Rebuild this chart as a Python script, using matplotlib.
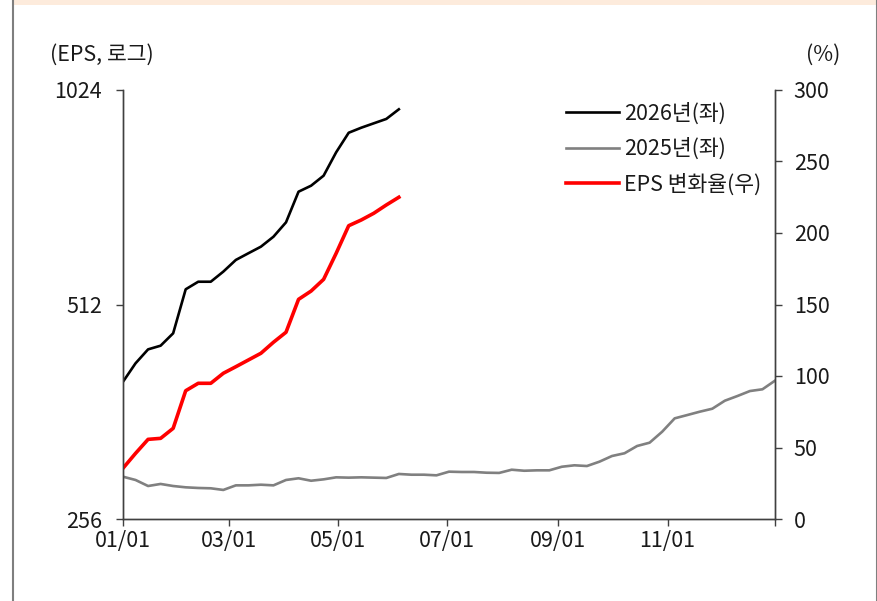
import matplotlib
matplotlib.use("Agg")
import matplotlib.pyplot as plt
from matplotlib.lines import Line2D
from matplotlib.patches import Rectangle
import pandas as pd

plt.rcParams['font.family'] = ['Noto Sans CJK KR', 'DejaVu Sans']

# weekly EPS index (log scale, left axis)
eps_2026 = [398.9, 423.4, 442.9, 448.2, 466.5, 537.8, 551.1, 551.1, 569.4, 591.3,
            604.2, 617.2, 637.4, 667.7, 737.2, 751.6, 776.4, 837.3, 891.9, 906.5,
            919.5, 932.6, 962.1]
eps_2025 = [293.5, 290.4, 284.8, 286.7, 284.8, 283.6, 283.0, 282.7, 281.2, 285.4,
            285.4, 286.0, 285.4, 290.4, 292.0, 289.7, 291.0, 292.9, 292.6, 292.9,
            292.6, 292.3, 296.1, 295.4, 295.4, 294.8, 298.3, 298.0, 298.0, 297.3,
            297.1, 300.2, 299.2, 299.6, 299.6, 303.1, 304.5, 303.8, 308.1, 313.8,
            316.6, 324.1, 327.6, 339.4, 354.4, 358.2, 362.1, 365.6, 375.2, 380.9,
            387.1, 389.3, 400.3]
# EPS change rate (%) right axis
eps_chg = [35.5, 45.9, 55.7, 56.4, 63.4, 89.7, 94.9, 94.9, 101.9, 106.5,
           111.2, 115.9, 123.6, 130.6, 153.6, 159.4, 167.6, 185.8, 205.1, 209.1,
           213.8, 219.6, 225.0]

dates_all = pd.date_range('2026-01-01', periods=len(eps_2025), freq='7D')
dates_26 = dates_all[:len(eps_2026)]

xtick_dates = pd.to_datetime(['2026-01-01', '2026-03-01', '2026-05-01', '2026-07-01',
                              '2026-09-01', '2026-11-01', '2026-12-31'])
xtick_labels = ['01/01', '03/01', '05/01', '07/01', '09/01', '11/01', '']
left_ticks = [256, 512, 1024]
right_ticks = [0, 50, 100, 150, 200, 250, 300]

legend_labels = ['2026년(좌)', '2025년(좌)', 'EPS 변화율(우)']

W, H = 878, 601
fig = plt.figure(figsize=(W / 100, H / 100), dpi=100)
ax = fig.add_axes([123 / W, 1 - 519 / H, (775 - 123) / W, (519 - 90) / H])
ax2 = ax.twinx()

fs = 15.5
spine_col = '#404040'

l1, = ax.plot(dates_26, eps_2026, color='black', lw=1.9, label=legend_labels[0])
l2, = ax.plot(dates_all, eps_2025, color='#808080', lw=1.9, label=legend_labels[1])
l3, = ax2.plot(dates_26, eps_chg, color='#FF0000', lw=2.6, label=legend_labels[2])

ax.set_yscale('log', base=2)
ax.set_ylim(256, 1024)
ax.set_yticks(left_ticks)
ax.set_yticklabels([str(v) for v in left_ticks])
ax.yaxis.set_minor_locator(matplotlib.ticker.NullLocator())
ax.set_xlim(pd.Timestamp('2026-01-01'), pd.Timestamp('2026-12-31'))
ax.set_xticks(xtick_dates)
ax.set_xticklabels(xtick_labels)

ax2.set_ylim(0, 300)
ax2.set_yticks(right_ticks)

for a in (ax, ax2):
    a.spines['top'].set_visible(False)
    for s in ('left', 'right', 'bottom'):
        a.spines[s].set_color(spine_col)
        a.spines[s].set_linewidth(1.0)
    a.tick_params(axis='both', which='major', direction='out', length=5, width=1.0,
                  color=spine_col, labelsize=fs, labelcolor='#1a1a1a')
ax.tick_params(axis='y', pad=10)
ax.tick_params(axis='x', pad=3)
ax2.tick_params(axis='y', pad=8.5)

leg = ax2.legend(handles=[l1, l2, l3], loc='upper left',
                 bbox_to_anchor=(562 / W, 1 - 98 / H), bbox_transform=fig.transFigure,
                 frameon=False, fontsize=fs, handlelength=2.45, handletextpad=0.25,
                 labelspacing=0.62, borderaxespad=0, borderpad=0.2)
for t in leg.get_texts():
    t.set_color('#1a1a1a')

fig.text(50 / W, 1 - 55 / H, '(EPS, 로그)', fontsize=fs, va='center', ha='left', color='#1a1a1a')
fig.text(806 / W, 1 - 55 / H, '(%)', fontsize=fs, va='center', ha='left', color='#1a1a1a')

# outer frame
fig.add_artist(Rectangle((13 / W, 1 - 5 / H), (877 - 13) / W, 5 / H, transform=fig.transFigure,
                         facecolor='#FDEBDC', edgecolor='none'))
fig.add_artist(Line2D([13 / W, 13 / W], [0, 1], transform=fig.transFigure, color='#7f7f7f', lw=1.5))
fig.add_artist(Line2D([877 / W, 877 / W], [0, 1], transform=fig.transFigure, color='#7f7f7f', lw=1.5))

fig.savefig('out.png', dpi=100)
